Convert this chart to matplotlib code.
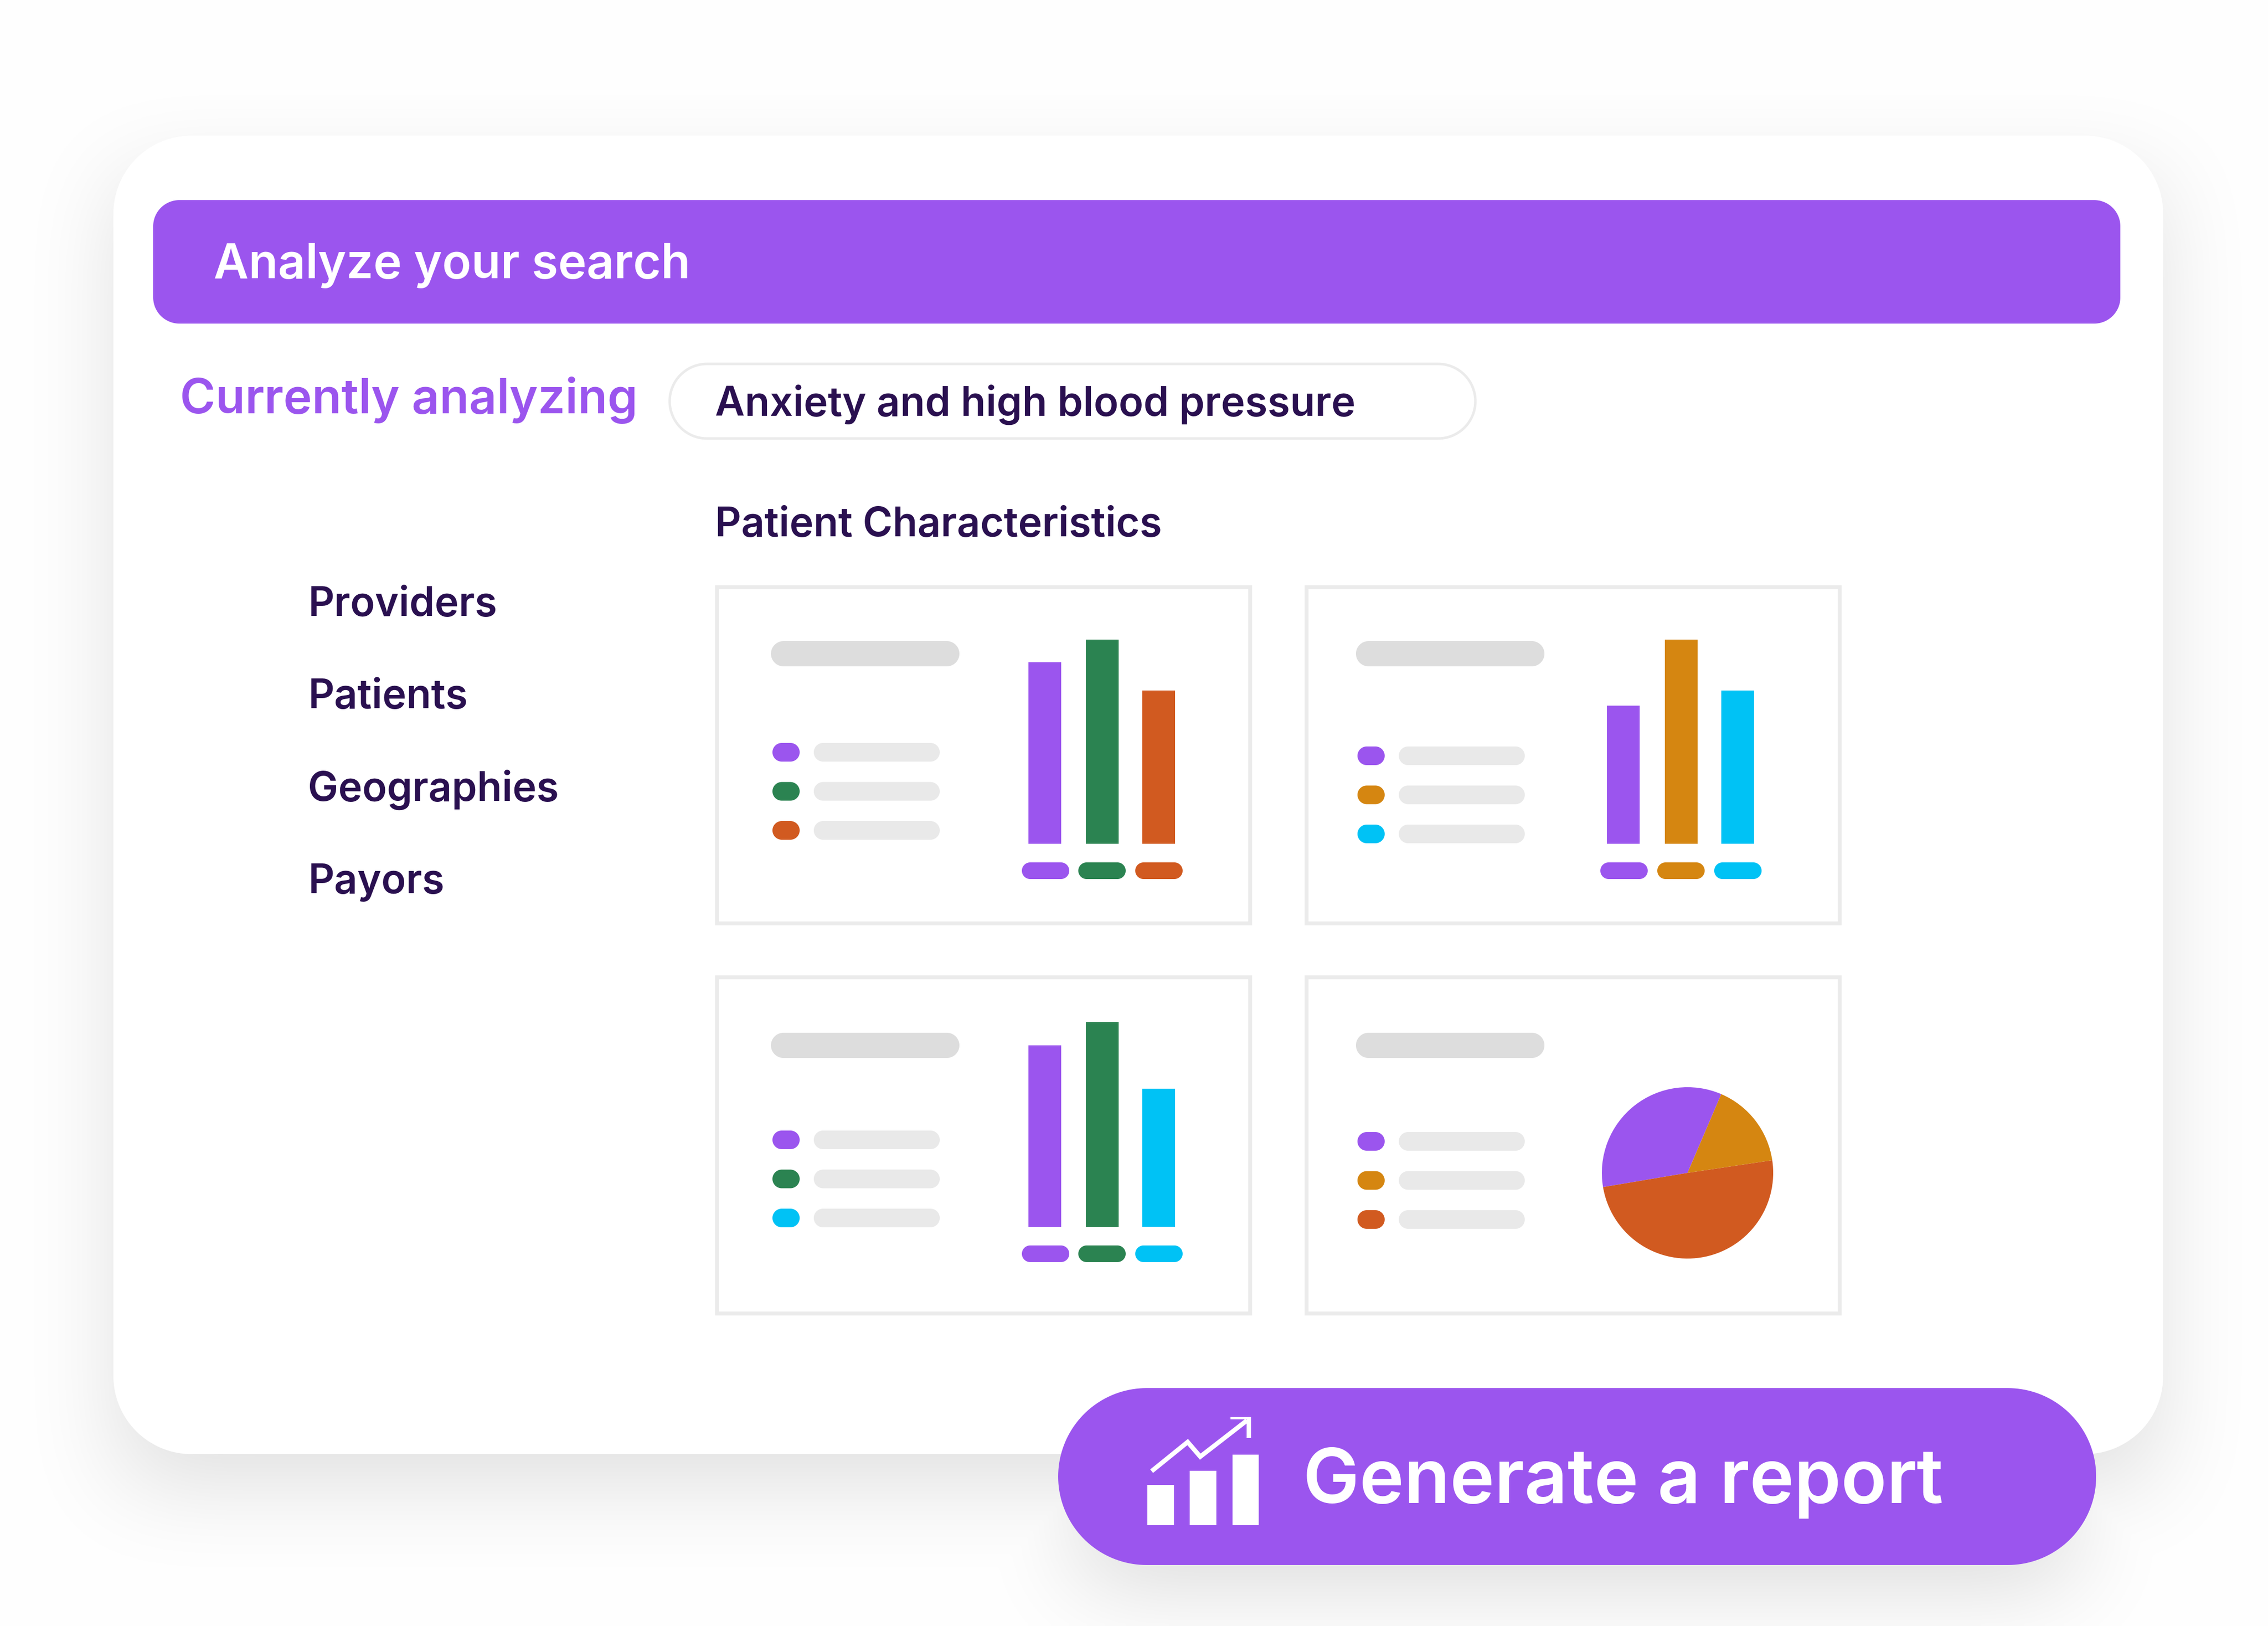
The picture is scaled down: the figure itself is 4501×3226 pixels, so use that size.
import numpy as np
import matplotlib
matplotlib.use("Agg")
import matplotlib.pyplot as plt
from matplotlib.patches import Polygon, Rectangle

# chart values
bar_values_1 = [360, 405, 304]
bar_values_2 = [274, 405, 304]
bar_values_3 = [360, 406, 274]
pie_values = [34.1, 49.7, 16.2]
icon_bars = [80, 108, 140]
icon_line_x = [0, 68, 93, 182]
icon_line_y = [0, 55, 26, 95]

nav_labels = ["Providers", "Patients", "Geographies", "Payors"]

PURPLE = "#9b55ee"
GREEN = "#2b8351"
ORANGE = "#d15a20"
AMBER = "#d58611"
CYAN = "#00c2f5"
INK = "#2a1050"
BORDER = "#ebebeb"
W, H = 4501, 3226

plt.rcParams["font.family"] = ["Inter", "DejaVu Sans"]

fig = plt.figure(figsize=(W / 100, H / 100), dpi=100, facecolor="#fefefe")
ax = fig.add_axes([0, 0, 1, 1])
ax.set_xlim(0, W)
ax.set_ylim(H, 0)
ax.axis("off")


def rbox(x0, y0, x1, y1, r, color, z=2, edge="none", lw=0):
    # true circular corners, FancyBboxPatch comes out too square
    pts = []
    corners = [(x1 - r, y0 + r, -90), (x1 - r, y1 - r, 0), (x0 + r, y1 - r, 90), (x0 + r, y0 + r, 180)]
    for cx, cy, start in corners:
        t = np.radians(np.linspace(start, start + 90, 40))
        pts.append(np.column_stack([cx + r * np.cos(t), cy + r * np.sin(t)]))
    p = Polygon(np.vstack(pts), closed=True, fc=color, ec=edge, lw=lw, zorder=z)
    ax.add_patch(p)
    return p


def pill(x0, y0, x1, y1, color, z=3):
    return rbox(x0, y0, x1, y1, min(y1 - y0, x1 - x0) / 2, color, z)


def blur(a, k):
    # box blur three times each way, close enough to a gaussian
    kernel = np.ones(2 * k + 1) / (2 * k + 1)
    for axis in (0, 1):
        for _ in range(3):
            a = np.apply_along_axis(lambda v: np.convolve(v, kernel, mode="same"), axis, a)
    return a


# soft shadows, worked out on a 1/8 size grid
S = 8
yy, xx = np.mgrid[0:H // S + 1, 0:W // S + 1]


def soft_rect(x0, y0, x1, y1, strength):
    m = ((xx * S >= x0) & (xx * S <= x1) & (yy * S >= y0) & (yy * S <= y1)).astype(float)
    return blur(m, 11) * strength


shadow = np.maximum(soft_rect(240, 355, 4275, 2937, 0.13), soft_rect(2140, 2830, 4110, 3160, 0.13))
rgba = np.zeros(shadow.shape + (4,))
rgba[..., 3] = shadow
ax.imshow(rgba, extent=(0, W, H, 0), aspect="auto", zorder=1, interpolation="bilinear")
ax.set_xlim(0, W)
ax.set_ylim(H, 0)

# main card and header
rbox(225, 269, 4293, 2885, 155, "white", 2)
rbox(304, 397, 4208, 642, 52, PURPLE, 3)
ax.text(424, 552, "Analyze your search", color="white", fontsize=68.6, fontweight=600, zorder=5)
ax.text(357, 820, "Currently analyzing", color=PURPLE, fontsize=69, fontweight=600, zorder=5)

pill(1329, 722, 2928, 870, "white").set(edgecolor=BORDER, linewidth=3.6)
ax.text(1419, 825, "Anxiety and high blood pressure", color=INK, fontsize=58.4, fontweight=600, zorder=5)
ax.text(1419, 1064, "Patient Characteristics", color=INK, fontsize=58, fontweight=600, zorder=5)

for label, y in zip(nav_labels, [1222, 1405, 1589, 1772]):
    ax.text(611, y, label, color=INK, fontsize=58, fontweight=600, zorder=5)


def panel(left, top, colors, pill_dx, pill_dy, legend_dy):
    w, h = 1066, 675
    ax.add_patch(Rectangle((left + 4, top + 4), w - 8, h - 8, fc="white", ec=BORDER, lw=5.5, zorder=3))
    pill(left + pill_dx, top + pill_dy, left + pill_dx + 374, top + pill_dy + 50, "#dddddd")
    for i, c in enumerate(colors):
        y = top + legend_dy + i * 77.5
        pill(left + pill_dx + 3, y, left + pill_dx + 57, y + 37, c)
        pill(left + pill_dx + 85, y, left + pill_dx + 335, y + 37, "#e9e9e9")


def bars(lefts, bottom, values, colors, chip_top, chip_lefts):
    # one unit = one pixel in these small axes
    bax = fig.add_axes([lefts[0] / W, 1 - bottom / H, (lefts[2] + 65 - lefts[0]) / W, 410 / H], zorder=4)
    bax.set_xlim(lefts[0], lefts[2] + 65)
    bax.set_ylim(0, 410)
    bax.axis("off")
    bax.bar(lefts, values, width=65, align="edge", color=colors)
    for cx, c in zip(chip_lefts, colors):
        pill(cx, chip_top, cx + 94, chip_top + 33, c)


panel(1419, 1161, [PURPLE, GREEN, ORANGE], 111, 111, 313)
panel(2589, 1161, [PURPLE, AMBER, CYAN], 102, 111, 320)
panel(1419, 1935, [PURPLE, GREEN, CYAN], 111, 114, 308)
panel(2589, 1935, [PURPLE, AMBER, ORANGE], 102, 114, 311)

bars([2041, 2155, 2267], 1674, bar_values_1, [PURPLE, GREEN, ORANGE], 1711, [2028, 2140, 2253])
bars([3189, 3304, 3416], 1674, bar_values_2, [PURPLE, AMBER, CYAN], 1711, [3176, 3289, 3402])
bars([2041, 2155, 2267], 2434, bar_values_3, [PURPLE, GREEN, CYAN], 2471, [2028, 2140, 2253])

pax = fig.add_axes([(3349 - 172) / W, 1 - (2327 + 172) / H, 344 / W, 344 / H], zorder=4)
pax.pie(pie_values, colors=[PURPLE, ORANGE, AMBER], startangle=66.8, radius=170 / 172)
pax.set_xlim(-1, 1)
pax.set_ylim(-1, 1)

# generate button
pill(2100, 2754, 4160, 3105, PURPLE, 6)
ax.text(2586, 2982, "Generate a report", color="white", fontsize=107.5, fontweight=600, zorder=8)

iax = fig.add_axes([2277 / W, 1 - 3026 / H, 221 / W, 215 / H], zorder=10)
iax.set_xlim(0, 221)
iax.set_ylim(0, 215)
iax.axis("off")
iax.bar([0, 84, 169], icon_bars, width=53, align="edge", color="white")
line_x = np.array(icon_line_x) + 12
line_y = np.array(icon_line_y) + 110
iax.plot(line_x, line_y, color="white", lw=6.5, solid_joinstyle="miter")
iax.plot([line_x[-1] - 25, line_x[-1] + 7, line_x[-1] + 7],
         [line_y[-1] + 10, line_y[-1] + 10, line_y[-1] - 27],
         color="white", lw=6.5, solid_joinstyle="miter")

fig.savefig("out.png", dpi=100, facecolor=fig.get_facecolor())
